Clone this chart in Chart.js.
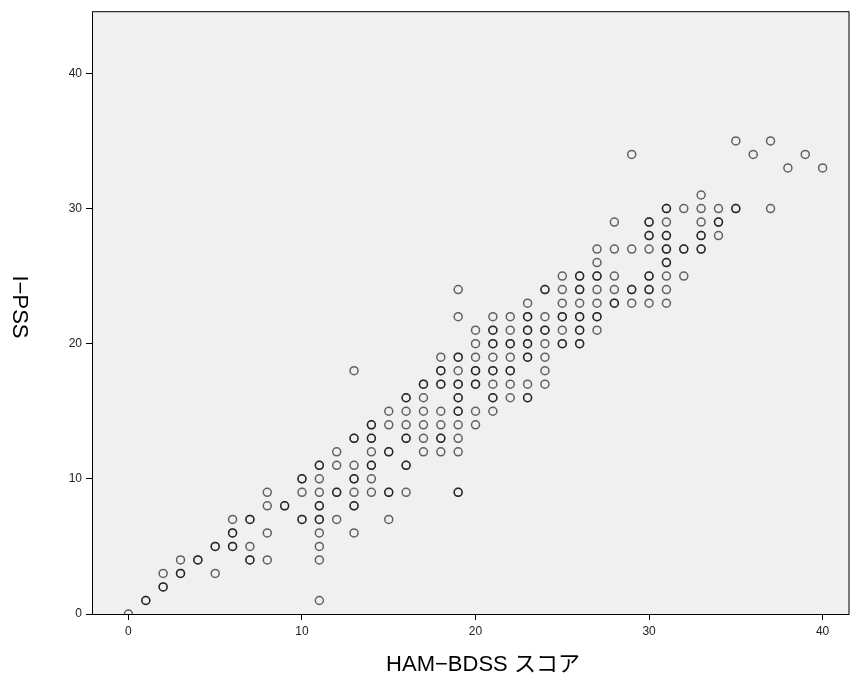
<!DOCTYPE html>
<html>
<head>
<meta charset="utf-8">
<script src="https://cdn.jsdelivr.net/npm/chart.js@4/dist/chart.umd.min.js"></script>
<style>
    body { margin: 0; background: #fff; }
    #wrap { width: 855px; height: 689px; }
</style>
</head>
<body>
<div id="wrap"><canvas id="chart" width="855" height="689"></canvas></div>
<script>
    // HAM-BDSS score (x) and the I-PSS scores observed at each one.
    // A value listed twice is an overlapping point (drawn darker).
    const hamScores = [
        0, 1, 2, 3, 4, 5, 6, 7, 8, 9, 10,
        11, 12, 13, 14, 15, 16, 17, 18, 19, 20,
        21, 22, 23, 24, 25, 26, 27, 28, 29, 30,
        31, 32, 33, 34, 35, 36, 37, 38, 39, 40
    ];
    const ipssScores = [
        [0],
        [1, 1],
        [3, 2, 2],
        [4, 3, 3],
        [4, 4],
        [5, 5, 3],
        [7, 6, 6, 5, 5],
        [7, 7, 5, 4, 4],
        [9, 8, 6, 4],
        [8, 8],
        [10, 10, 9, 7, 7],
        [11, 11, 10, 9, 8, 8, 7, 7, 6, 5, 4, 1],
        [12, 11, 9, 9, 7],
        [18, 13, 13, 11, 10, 10, 9, 8, 8, 6],
        [14, 14, 13, 13, 12, 11, 11, 10, 9],
        [15, 14, 12, 12, 9, 9, 7],
        [16, 16, 15, 14, 13, 13, 11, 11, 9],
        [17, 17, 16, 15, 14, 13, 12],
        [19, 18, 18, 17, 17, 15, 14, 13, 13, 12],
        [24, 22, 19, 19, 18, 17, 17, 16, 16, 15, 15, 14, 13, 12, 9, 9],
        [21, 20, 19, 18, 18, 17, 17, 15, 14],
        [22, 21, 21, 20, 20, 19, 18, 18, 17, 16, 16, 15],
        [22, 21, 20, 20, 19, 18, 18, 17, 16],
        [23, 22, 22, 21, 21, 20, 20, 19, 19, 17, 16, 16],
        [24, 24, 22, 21, 21, 20, 19, 18, 17],
        [25, 24, 23, 22, 22, 21, 20, 20],
        [25, 25, 24, 24, 23, 22, 22, 21, 21, 20, 20],
        [27, 26, 25, 25, 24, 23, 22, 22, 21],
        [29, 27, 25, 24, 23, 23],
        [34, 27, 24, 24, 23],
        [29, 29, 28, 28, 27, 25, 25, 24, 24, 23],
        [30, 30, 29, 28, 28, 27, 27, 26, 26, 25, 24, 23],
        [30, 27, 27, 25],
        [31, 30, 29, 28, 28, 27, 27],
        [30, 29, 29, 28],
        [35, 30, 30],
        [34],
        [35, 30],
        [33],
        [34],
        [33]
    ];
    const tickValues = [0, 10, 20, 30, 40];
    const xTitle = 'HAM\u2212BDSS スコア';
    const yTitle = 'I\u2212PSS';

    const points = [];
    hamScores.forEach((x, i) => {
        ipssScores[i].forEach(y => points.push({ x: x, y: y }));
    });

    const fixedTicks = scale => {
        scale.ticks = tickValues.map(v => ({ value: v }));
    };

    const frame = {
        id: 'frame',
        beforeDraw(chart) {
            const { ctx, chartArea: a } = chart;
            ctx.save();
            ctx.fillStyle = '#f0f0f0';
            ctx.fillRect(a.left, a.top, a.right - a.left, a.bottom - a.top);
            ctx.restore();
        },
        afterDraw(chart) {
            const { ctx, chartArea: a } = chart;
            ctx.save();
            ctx.strokeStyle = '#000';
            ctx.lineWidth = 1;
            ctx.strokeRect(a.left + 0.5, a.top + 0.5, a.right - a.left - 1, a.bottom - a.top);

            ctx.fillStyle = '#000';
            ctx.font = '22px "Liberation Sans", "Noto Sans CJK JP", sans-serif';
            ctx.textAlign = 'center';
            ctx.textBaseline = 'middle';
            ctx.fillText(xTitle, 483, 665);

            ctx.translate(19, 307);
            ctx.rotate(Math.PI / 2);
            ctx.fillText(yTitle, 0, 0);
            ctx.restore();
        }
    };

    new Chart(document.getElementById('chart'), {
        type: 'scatter',
        data: {
            datasets: [{
                data: points,
                pointStyle: 'circle',
                pointRadius: 4,
                pointBorderWidth: 1.5,
                pointBackgroundColor: 'rgba(0, 0, 0, 0)',
                pointBorderColor: 'rgba(0, 0, 0, 0.6)'
            }]
        },
        options: {
            responsive: false,
            animation: false,
            events: [],
            layout: { padding: { top: 10, right: 3, left: 0, bottom: 0 } },
            plugins: {
                legend: { display: false },
                tooltip: { enabled: false }
            },
            scales: {
                x: {
                    type: 'linear',
                    min: -2.1,
                    max: 41.55,
                    afterBuildTicks: fixedTicks,
                    afterFit(scale) { scale.height = 75; },
                    border: { display: false },
                    grid: { drawOnChartArea: false, drawTicks: true, tickLength: 6, color: '#000' },
                    ticks: {
                        padding: 4,
                        color: '#222',
                        font: { family: '"Liberation Sans", Arial, sans-serif', size: 12 }
                    }
                },
                y: {
                    type: 'linear',
                    min: 0,
                    max: 44.6,
                    afterBuildTicks: fixedTicks,
                    afterFit(scale) { scale.width = 92; },
                    border: { display: false },
                    grid: { drawOnChartArea: false, drawTicks: true, tickLength: 6, color: '#000' },
                    ticks: {
                        padding: 4,
                        color: '#222',
                        font: { family: '"Liberation Sans", Arial, sans-serif', size: 12 }
                    }
                }
            }
        },
        plugins: [frame]
    });
</script>
</body>
</html>
